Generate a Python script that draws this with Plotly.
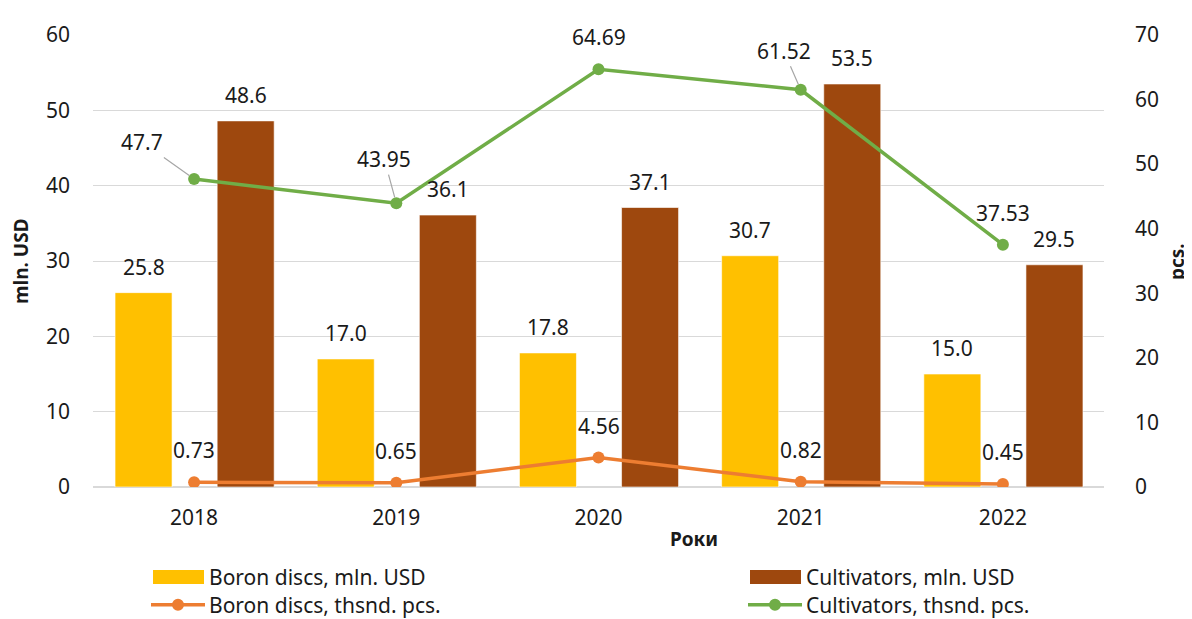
import plotly.graph_objects as go

years = ["2018", "2019", "2020", "2021", "2022"]
boron_usd = [25.8, 17.0, 17.8, 30.7, 15.0]
cultiv_usd = [48.6, 36.1, 37.1, 53.5, 29.5]
boron_pcs = [0.73, 0.65, 4.56, 0.82, 0.45]
cultiv_pcs = [47.7, 43.95, 64.69, 61.52, 37.53]

series_names = ["Boron discs, mln. USD", "Cultivators, mln. USD",
                "Boron discs, thsnd. pcs.", "Cultivators, thsnd. pcs."]
y_title = "mln. USD"
y2_title = "pcs."
x_title = "Роки"

C_BORON_BAR = "#FFC000"
C_CULT_BAR = "#9E480E"
C_BORON_LINE = "#ED7D31"
C_CULT_LINE = "#70AD47"
FONT = "Noto Sans"
TXT = "#1a1a1a"
FS = 21

fig = go.Figure()
fig.add_trace(go.Bar(x=years, y=boron_usd, name=series_names[0], width=0.282, offset=-0.391,
                     marker=dict(color=C_BORON_BAR, line=dict(color="rgba(255,255,255,0.6)", width=1))))
fig.add_trace(go.Bar(x=years, y=cultiv_usd, name=series_names[1], width=0.282, offset=0.114,
                     marker=dict(color=C_CULT_BAR, line=dict(color="rgba(255,255,255,0.6)", width=1))))
fig.add_trace(go.Scatter(x=years, y=boron_pcs, name=series_names[2], yaxis="y2", mode="lines+markers",
                         line=dict(color=C_BORON_LINE, width=3.5), marker=dict(size=12, color=C_BORON_LINE)))
fig.add_trace(go.Scatter(x=years, y=cultiv_pcs, name=series_names[3], yaxis="y2", mode="lines+markers",
                         line=dict(color=C_CULT_LINE, width=3.5), marker=dict(size=12, color=C_CULT_LINE)))

ann = []
for i, v in enumerate(boron_usd):
    ann.append(dict(x=i, y=v, xref="x", yref="y", text=f"{v:.1f}", showarrow=False,
                    xshift=-50.5, yshift=26, font=dict(size=FS, color=TXT, family=FONT)))
for i, v in enumerate(cultiv_usd):
    ann.append(dict(x=i, y=v, xref="x", yref="y", text=f"{v:.1f}", showarrow=False,
                    xshift=51.5, yshift=26, font=dict(size=FS, color=TXT, family=FONT)))
for i, v in enumerate(boron_pcs):
    ann.append(dict(x=i, y=v, xref="x", yref="y2", text=f"{v:g}", showarrow=False,
                    yshift=32, font=dict(size=FS, color=TXT, family=FONT)))
arrow_offsets = {0: (-52, -37), 1: (-12, -44), 3: (-17, -39)}
for i, v in enumerate(cultiv_pcs):
    if i in arrow_offsets:
        ax, ay = arrow_offsets[i]
        ann.append(dict(x=i, y=v, xref="x", yref="y2", text=f"{v:g}", showarrow=True,
                        ax=ax, ay=ay, arrowhead=0, arrowwidth=1.2, arrowcolor="#A6A6A6", standoff=6,
                        font=dict(size=FS, color=TXT, family=FONT)))
    else:
        ann.append(dict(x=i, y=v, xref="x", yref="y2", text=f"{v:g}", showarrow=False,
                        yshift=32, font=dict(size=FS, color=TXT, family=FONT)))

# axis titles
ann.append(dict(x=-0.0712, y=0.5, xref="paper", yref="paper", text=f"<b>{y_title}</b>", textangle=-90,
                xanchor="center", yanchor="middle",
                showarrow=False, font=dict(size=19, color=TXT, family=FONT)))
ann.append(dict(x=1.0722, y=0.5, xref="paper", yref="paper", text=f"<b>{y2_title}</b>", textangle=-90,
                xanchor="center", yanchor="middle",
                showarrow=False, font=dict(size=19, color=TXT, family=FONT)))
ann.append(dict(x=0.594, y=-0.116, xref="paper", yref="paper", text=f"<b>{x_title}</b>",
                xanchor="center", yanchor="middle",
                showarrow=False, font=dict(size=19, color=TXT, family=FONT)))

# custom legend (screen layout: plot area x 93..1104, y 30..487)
L, W, T, H = 93, 1011, 30, 457
def px(x):
    return (x - L) / W
def py(y):
    return (T + H - y) / H

shapes = []
legend_items = [
    (153, 578, "bar", C_BORON_BAR, series_names[0]),
    (750, 578, "bar", C_CULT_BAR, series_names[1]),
    (151, 606, "line", C_BORON_LINE, series_names[2]),
    (748, 606, "line", C_CULT_LINE, series_names[3]),
]
for x0, yc, kind, col, name in legend_items:
    if kind == "bar":
        shapes.append(dict(type="rect", xref="paper", yref="paper", x0=px(x0), x1=px(x0 + 51),
                           y0=py(yc + 7), y1=py(yc - 7), fillcolor=col, line=dict(width=0)))
        tx = x0 + 54
    else:
        shapes.append(dict(type="line", xref="paper", yref="paper", x0=px(x0), x1=px(x0 + 54),
                           y0=py(yc), y1=py(yc), line=dict(color=col, width=3.5)))
        cx = x0 + 27
        shapes.append(dict(type="circle", xref="paper", yref="paper", x0=px(cx - 6), x1=px(cx + 6),
                           y0=py(yc + 6), y1=py(yc - 6), fillcolor=col, line=dict(width=0)))
        tx = x0 + 56
    ann.append(dict(x=px(tx), y=py(yc), xref="paper", yref="paper", text=name, showarrow=False,
                    xanchor="left", yanchor="middle", font=dict(size=FS, color=TXT, family=FONT)))

# the page body has an 8px margin; compensate so the plot area lands where the reference has it
fig.update_layout(
    width=1184, height=611,
    margin=dict(l=85, r=88, t=22, b=132),
    plot_bgcolor="white", paper_bgcolor="white",
    barmode="overlay", showlegend=False,
    font=dict(family=FONT, size=FS, color=TXT),
    xaxis=dict(type="category", range=[-0.5, 4.5], showgrid=False, showline=False, zeroline=False,
               ticks="", ticklabelstandoff=16, tickfont=dict(size=FS, color=TXT)),
    yaxis=dict(range=[0, 60], dtick=10, showgrid=True, gridcolor="#D9D9D9", gridwidth=1.3,
               zeroline=True, zerolinecolor="#D9D9D9", zerolinewidth=1.5, showline=False,
               ticks="", ticklabelstandoff=22, tickfont=dict(size=FS, color=TXT)),
    yaxis2=dict(range=[0, 70], dtick=10, overlaying="y", side="right", showgrid=False,
                zeroline=False, showline=False, ticks="", ticklabelstandoff=30,
                tickfont=dict(size=FS, color=TXT)),
    annotations=ann, shapes=shapes,
)

fig.write_html("out.html")
